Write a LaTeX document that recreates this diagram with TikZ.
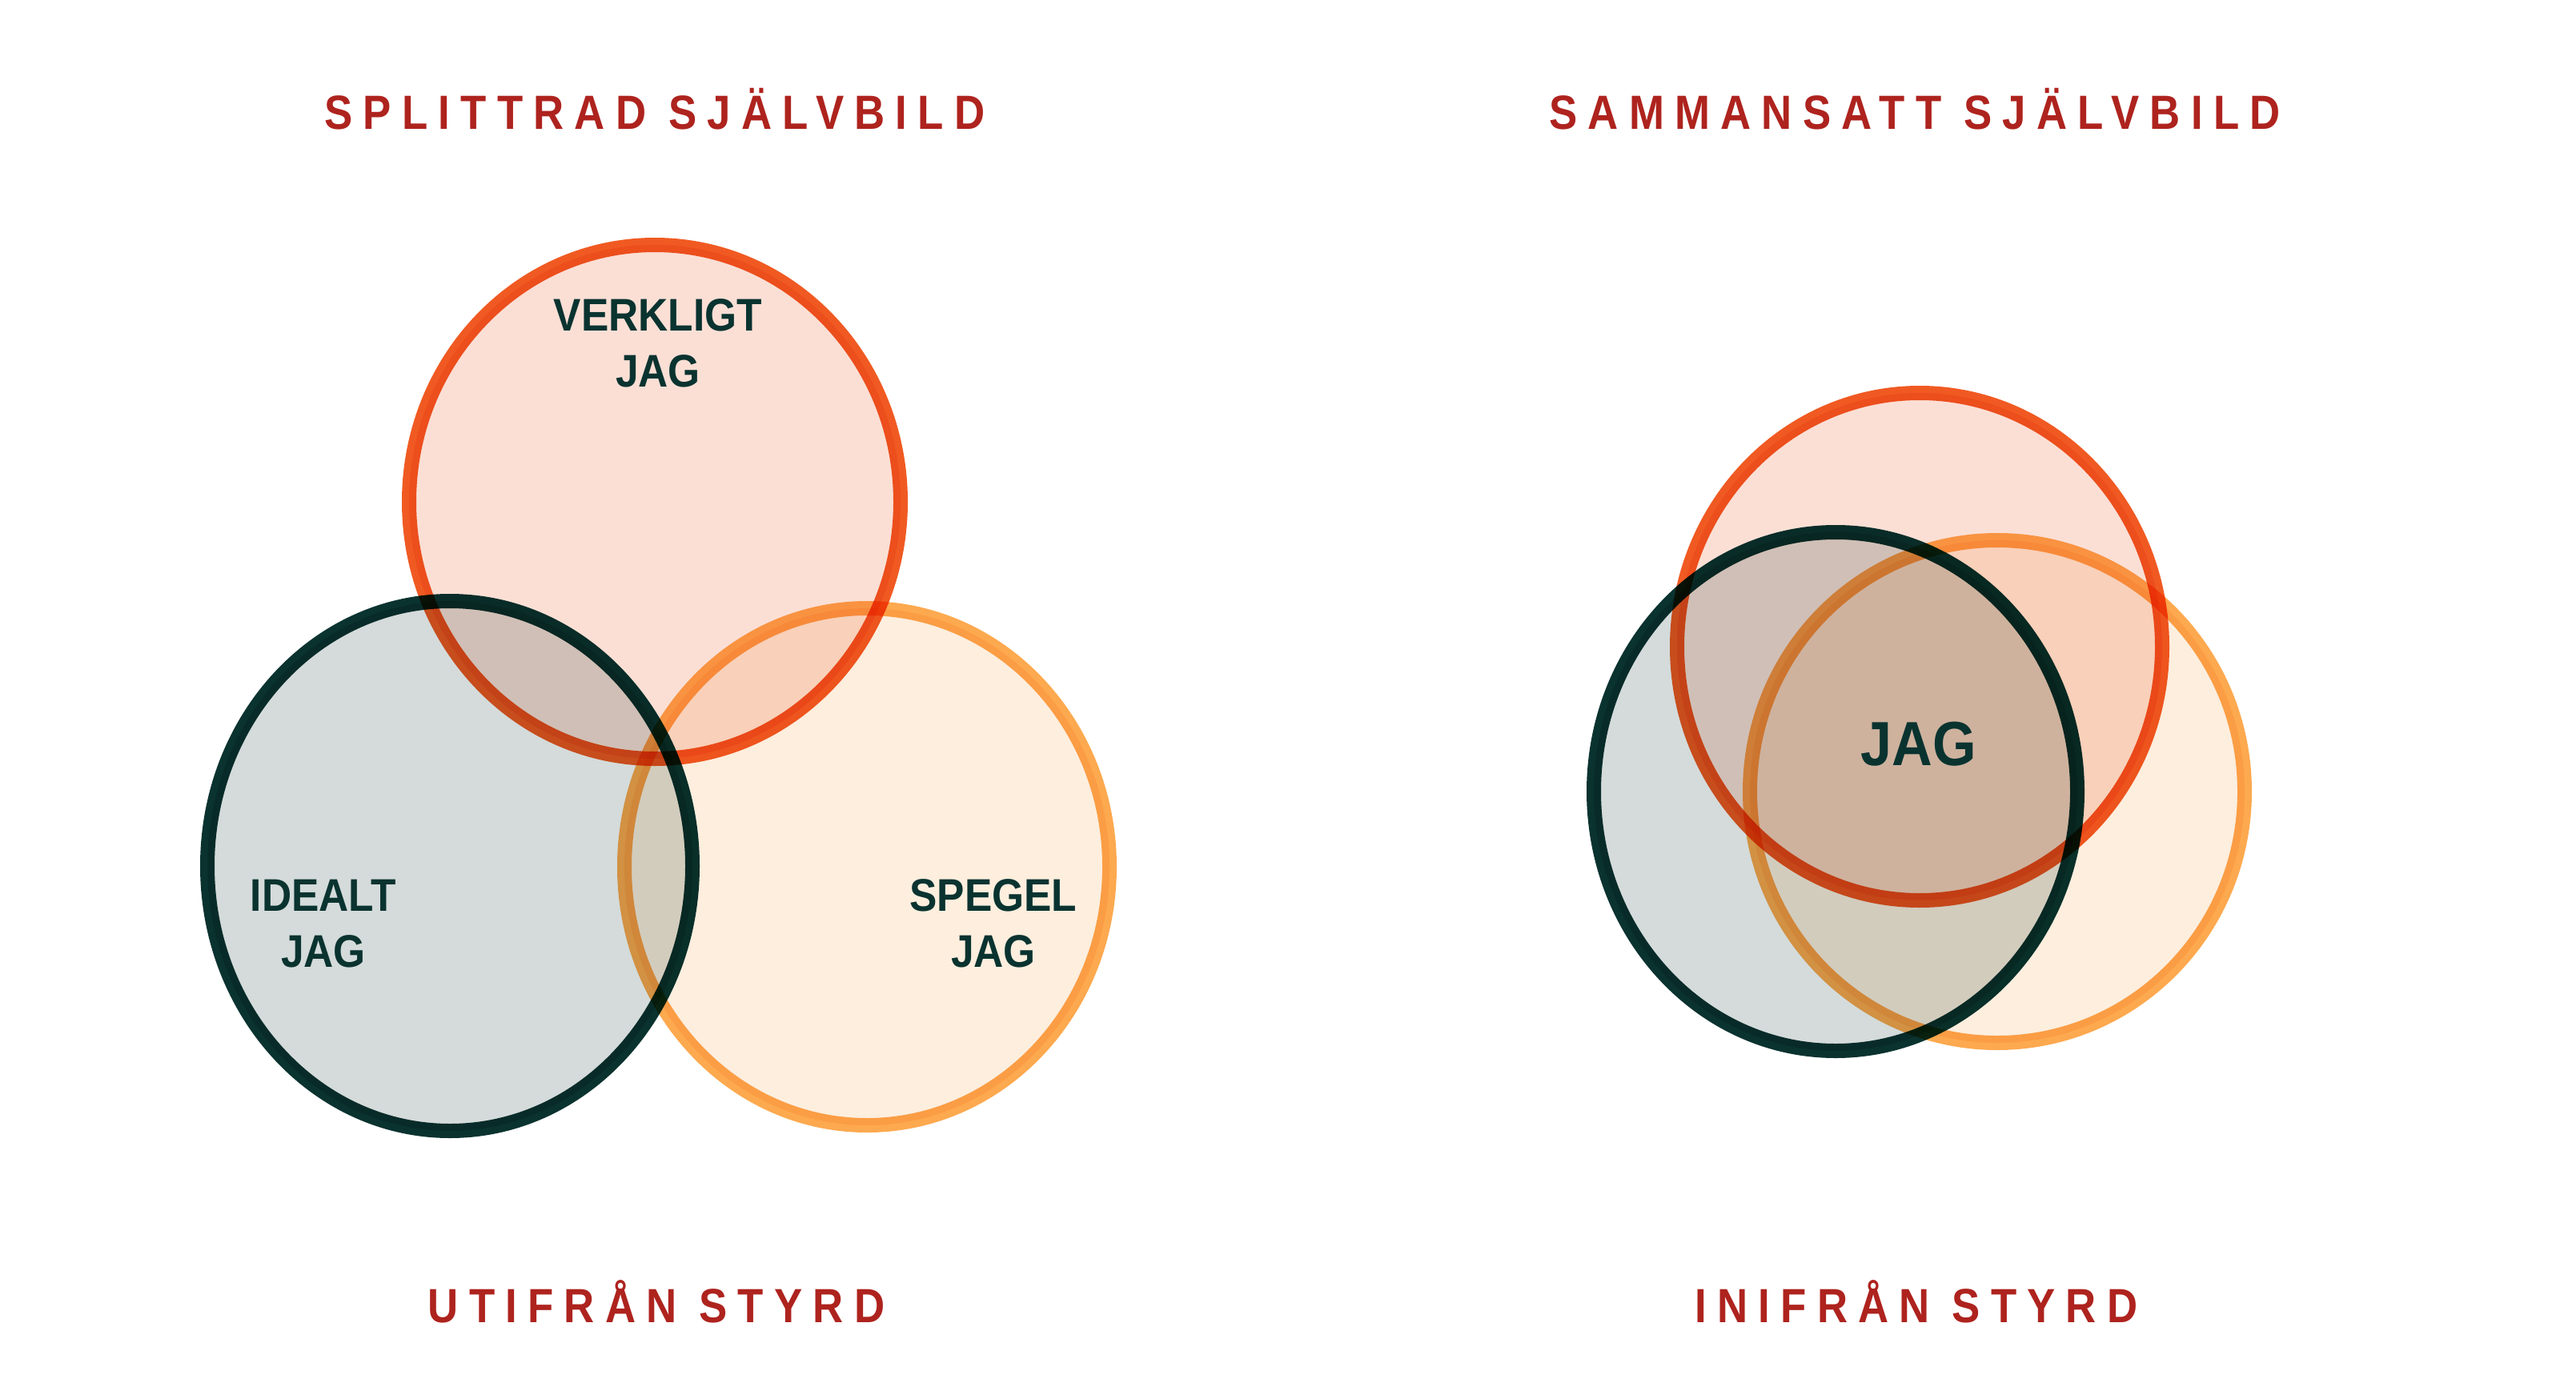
\documentclass[tikz,border=0pt]{standalone}
\usepackage{fontspec}
\setmainfont{Liberation Sans}
\newfontfamily\titlefont[LetterSpace=22,FakeStretch=0.88]{Liberation Sans}
\newfontfamily\labelfont[FakeStretch=0.9]{Liberation Sans}
\usetikzlibrary{shapes.geometric}

\definecolor{titlered}{HTML}{AE231E}
\definecolor{inkgreen}{HTML}{0A3330}
\definecolor{realline}{HTML}{F05A22}
\definecolor{realfill}{HTML}{FBDFD5}
\definecolor{idealline}{HTML}{0A3330}
\definecolor{idealfill}{HTML}{D4DBDA}
\definecolor{mirrorline}{HTML}{FDA94F}
\definecolor{mirrorfill}{HTML}{FDEEDE}

\begin{document}
\begin{tikzpicture}[x=1pt, y=-1pt,
    ring/.style={ellipse, draw, line width=9pt, inner sep=0},
    heading/.style={font=\titlefont\bfseries\fontsize{30}{36}\selectfont, text=titlered, anchor=base, inner sep=0},
    tag/.style={font=\labelfont\bfseries\fontsize{28.6}{35}\selectfont, text=inkgreen, align=center, anchor=base, inner sep=0}]
  \useasboundingbox (0,0) rectangle (1609,864);

  % headings
  \node[heading] (split) at (409,81) {SPLITTRAD SJÄLVBILD};
  \node[heading] (joined) at (1196,81) {SAMMANSATT SJÄLVBILD};
  \node[heading] (outside) at (410,826) {UTIFRÅN STYRD};
  \node[heading] (inside) at (1197,826) {INIFRÅN STYRD};

  \begin{scope}[blend mode=multiply]
    % splittrad
    \node[ring, draw=realline, fill=realfill, minimum width=307, minimum height=321] (real) at (409,313.5) {};
    \node[ring, draw=idealline, fill=idealfill, minimum width=303, minimum height=331] (ideal) at (281,541) {};
    \node[ring, draw=mirrorline, fill=mirrorfill, minimum width=303, minimum height=323] (mirror) at (541.5,541.5) {};
    % sammansatt
    \node[ring, draw=realline, fill=realfill, minimum width=303, minimum height=317] (real2) at (1199,404) {};
    \node[ring, draw=idealline, fill=idealfill, minimum width=302, minimum height=324] (ideal2) at (1146.5,494.5) {};
    \node[ring, draw=mirrorline, fill=mirrorfill, minimum width=309, minimum height=314] (mirror2) at (1247.5,494.5) {};
  \end{scope}

  % labels (base = last line)
  \node[tag] (realtag) at (411,241.5) {VERKLIGT\\JAG};
  \node[tag] (idealtag) at (202,604) {IDEALT\\JAG};
  \node[tag] (mirrortag) at (620.5,604) {SPEGEL\\JAG};
  \node[tag, font=\labelfont\bfseries\fontsize{39}{47}\selectfont] (self) at (1198.5,478) {JAG};
\end{tikzpicture}
\end{document}
